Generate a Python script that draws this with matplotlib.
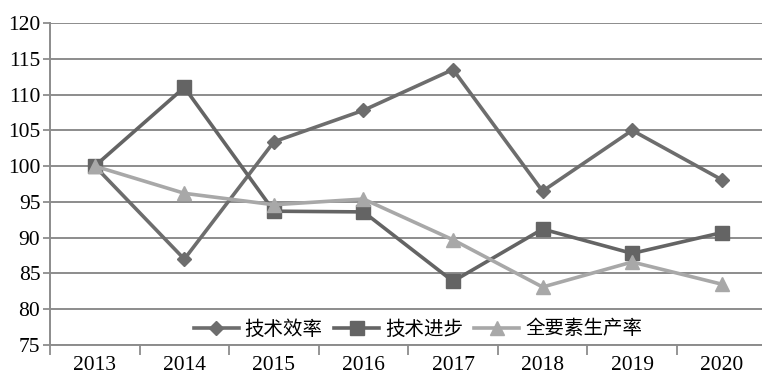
import matplotlib
matplotlib.use("Agg")
from matplotlib import pyplot as plt

years = ["2013", "2014", "2015", "2016", "2017", "2018", "2019", "2020"]
techEfficiency = [100, 87.0, 103.4, 107.8, 113.5, 96.5, 105.0, 98.1]
techProgress = [100, 111.0, 93.7, 93.6, 83.9, 91.2, 87.8, 90.7]
tfp = [100, 96.2, 94.6, 95.4, 89.7, 83.1, 86.6, 83.5]
seriesNames = ["技术效率", "技术进步", "全要素生产率"]
yTicks = [75, 80, 85, 90, 95, 100, 105, 110, 115, 120]

plt.rcParams["font.family"] = ["Liberation Serif", "Noto Sans CJK SC"]

fig = plt.figure(figsize=(7.62, 3.77), dpi=100)
ax = fig.add_axes([50 / 762, 32 / 377, 716.5 / 762, 322 / 377])

x = list(range(len(years)))
ax.plot(x, techEfficiency, color="#6d6d6d", lw=2.6, marker="D", ms=7.5, label=seriesNames[0])
ax.plot(x, techProgress, color="#646464", lw=2.6, marker="s", ms=10, label=seriesNames[1])
ax.plot(x, tfp, color="#a8a8a8", lw=2.6, marker="^", ms=10, label=seriesNames[2])

ax.set_xlim(-0.5, 7.5)
ax.set_ylim(75, 120)
ax.set_yticks(yTicks)
ax.set_yticklabels([str(t) for t in yTicks], fontsize=15.5)
ax.set_xticks(x)
ax.set_xticklabels(years, fontsize=15.5)
ax.set_xticks([i - 0.5 for i in range(len(years) + 1)], minor=True)
ax.tick_params(axis="x", which="major", length=0, pad=8)
ax.tick_params(axis="x", which="minor", length=7, width=1.3, color="#8c8c8c")
ax.tick_params(axis="y", length=5, width=1.3, color="#8c8c8c", pad=2)

ax.yaxis.grid(True, color="#8c8c8c", lw=1.4)
ax.set_axisbelow(True)
for side in ["top", "right"]:
    ax.spines[side].set_visible(False)
ax.spines["left"].set_color("#8c8c8c")
ax.spines["left"].set_linewidth(1.4)
ax.spines["bottom"].set_color("#8c8c8c")
ax.spines["bottom"].set_linewidth(1.4)

ax.legend(
    loc="center",
    bbox_to_anchor=(418 / 762, 1 - 329 / 377),
    bbox_transform=fig.transFigure,
    ncol=3,
    frameon=False,
    prop={"family": ["Noto Sans CJK SC"], "size": 14},
    handlelength=2.3,
    handletextpad=0.3,
    columnspacing=0.6,
    borderpad=0,
)

plt.savefig("out.png", dpi=100)
